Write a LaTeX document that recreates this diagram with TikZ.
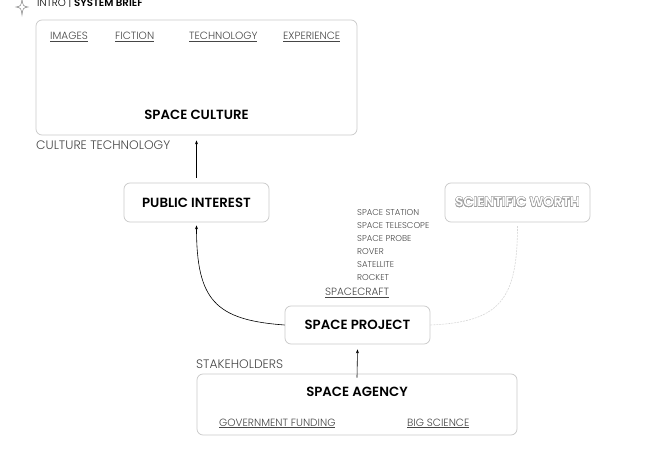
\documentclass[tikz,border=0pt]{standalone}
\usepackage{fontspec}
\usepackage[copies]{contour}
\setmainfont{Poppins}
\newfontfamily\lightfont{Poppins Light}
\newfontfamily\titlefont{Poppins SemiBold}
\usetikzlibrary{arrows.meta, positioning}

\definecolor{boxline}{RGB}{200,200,200}
\definecolor{tagtext}{RGB}{70,70,70}
\definecolor{worthline}{RGB}{215,215,215}
\definecolor{worthtext}{RGB}{160,160,160}
\contourlength{0.35pt}
\contournumber{24}

\tikzset{
  panel/.style={draw=boxline, line width=0.7pt, rounded corners=6pt, inner sep=0pt},
  title/.style={font=\titlefont\fontsize{13.3}{15}\selectfont, text=black},
  tag/.style={font=\lightfont\fontsize{10.5}{12}\selectfont, text=tagtext, anchor=base west, inner sep=0pt},
  caption/.style={font=\lightfont\fontsize{12.3}{14}\selectfont, text=tagtext, anchor=base west, inner sep=0pt},
  item/.style={font=\lightfont\fontsize{8.5}{9}\selectfont, text=tagtext, anchor=base west, inner sep=0pt},
  link/.style={-{Stealth[length=4pt, width=3pt]}, line width=0.6pt, black},
}

\begin{document}
\begin{tikzpicture}[x=1pt, y=-1pt]
  \useasboundingbox (0,0) rectangle (670,449);
  % Header:
  \draw[gray, line width=0.5pt] (22,-1) .. controls (23,6) .. (28,7) .. controls (23,8) .. (22,15)
    .. controls (21,8) .. (16,7) .. controls (21,6) .. cycle;
  \node[caption, font=\lightfont\fontsize{10.2}{11}\selectfont, text=black] (header) at (37,7) {INTRO | {\titlefont SYSTEM BRIEF}};
  % Boxes:
  \node[panel, minimum width=321pt, minimum height=115pt] (culture) at (196.5,77.5) {};
  \node[title] (culturetitle) at (196.5,115) {SPACE CULTURE};
  \node[tag] (images) at (50,40) {\underline{IMAGES}};
  \node[tag] (fiction) at (115,40) {\underline{FICTION}};
  \node[tag] (technology) at (189,40) {\underline{TECHNOLOGY}};
  \node[tag] (experience) at (283,40) {\underline{EXPERIENCE}};
  \node[caption] (culturetech) at (36,150) {CULTURE TECHNOLOGY};
  \node[panel, title, minimum width=145pt, minimum height=39pt] (interest) at (196.5,202.5) {PUBLIC INTEREST};
  \node[panel, title, minimum width=145pt, minimum height=39pt] (worth) at (517.5,202.5) {\contour{worthtext}{\textcolor{white}{SCIENTIFIC WORTH}}};
  \node[panel, title, minimum width=145pt, minimum height=38pt] (project) at (357.5,325) {SPACE PROJECT};
  \node[panel, minimum width=320pt, minimum height=61pt] (agency) at (357,404.5) {};
  \node[title] (agencytitle) at (357,392) {SPACE AGENCY};
  \node[tag] (funding) at (219,426) {\underline{GOVERNMENT FUNDING}};
  \node[tag] (bigscience) at (407,426) {\underline{BIG SCIENCE}};
  \node[caption] (stakeholders) at (196,368) {STAKEHOLDERS};
  % Spacecraft list:
  \foreach \name [count=\i] in {SPACE STATION, SPACE TELESCOPE, SPACE PROBE, ROVER, SATELLITE, ROCKET}
    \node[item] (item\i) at (357,203+13*\i) {\name};
  \node[tag] (spacecraft) at (325,296) {\underline{SPACECRAFT}};
  % Connectors:
  \draw[link] (interest.north) ++(0,-5) -- ([yshift=-5pt]culture.south);
  \draw[link] (project.west) .. controls (215,320) and (196.5,300) .. ([yshift=-3pt]interest.south);
  \draw[worthline, dashed, dash pattern=on 2pt off 1pt, line width=0.6pt] (project.east) .. controls (500,322) and (517.5,300) .. ([yshift=-3pt]worth.south);
  \draw[link] ([yshift=-4pt]agency.north) -- ([yshift=-5pt]project.south);
\end{tikzpicture}
\end{document}
